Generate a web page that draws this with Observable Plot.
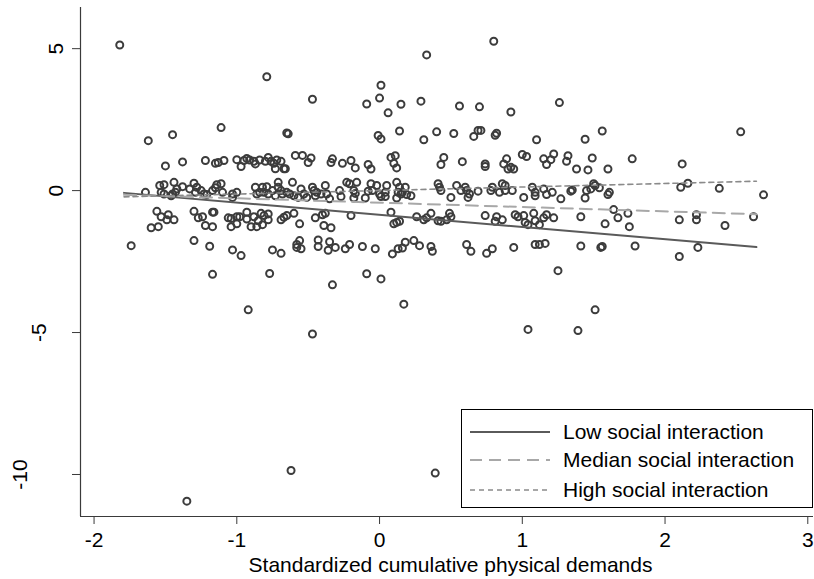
<!DOCTYPE html>
<html>
<head>
<meta charset="utf-8">
<script src="https://cdn.jsdelivr.net/npm/d3@7"></script>
<script src="https://cdn.jsdelivr.net/npm/@observablehq/plot@0.6"></script>
<style>
  html, body { margin: 0; padding: 0; background: #fff; }
  #wrap { position: relative; width: 814px; height: 579px; font-family: "Liberation Sans", Arial, sans-serif; }
  #legend { position: absolute; left: 461px; top: 409px; width: 350px; height: 97px; border: 1px solid #000; background: #fff; }
  #legend .row { position: absolute; left: 0; height: 28px; display: flex; align-items: center; }
  #legend svg { margin-left: 8px; }
  #legend span { margin-left: 13px; font-size: 21px; color: #000; white-space: nowrap; }
</style>
</head>
<body>
<div id="wrap"></div>
<script>
// ---- data ----
const xTicks = [-2, -1, 0, 1, 2, 3];
const yTicks = [5, 0, -5, -10];
const xDomain = [-2.095, 3.04];
const yDomain = [-11.48, 6.45];
const xTitle = "Standardized cumulative physical demands";
const seriesNames = ["Low social interaction", "Median social interaction", "High social interaction"];

// fitted lines (endpoints)
const fitX = [-1.79, 2.64];
const lowY = [-0.08, -1.99];
const medY = [-0.15, -0.83];
const highY = [-0.22, 0.33];

// scatter points: physical demands (x) and outcome (y)
const demandX = [
-1.82,-0.79,-1.11,-1.45,-1.62,-0.47,0.01,0.00,-0.09,0.06,0.15,0.33,0.80,0.29,0.56,0.70,0.92,-0.65,-0.64,-0.01,0.01,0.14,0.31,0.40,0.52,0.66,0.69,0.71,0.81,0.82,1.10,1.26,1.56,1.44,2.53,
-1.50,-1.38,-1.22,-1.15,-1.13,-1.09,-1.00,-0.97,-0.95,-0.93,-0.91,-0.88,-0.87,-0.84,-0.80,-0.78,-0.76,-0.74,-0.73,-0.72,-0.69,-0.67,-0.66,-0.59,-0.54,-0.48,-0.50,
-0.33,-0.34,-0.26,-0.20,-0.17,-0.08,-0.06,0.08,0.11,0.10,0.12,0.45,0.43,0.58,0.74,0.74,0.89,0.87,0.90,0.92,0.94,1.00,1.03,1.15,1.17,1.22,1.32,1.31,1.20,1.49,1.38,1.46,1.60,1.77,2.12,
-1.64,-1.54,-1.51,-1.53,-1.51,-1.46,-1.45,-1.44,-1.42,-1.38,-1.43,-1.33,-1.30,-1.28,-1.25,-1.29,-1.23,-1.21,-1.17,-1.14,-1.11,-1.15,-1.10,-1.03,-1.03,-1.00,-0.87,-0.86,-0.82,-0.84,-0.79,-0.81,-0.78,-0.75,-0.73,-0.71,-0.71,-0.69,-0.68,-0.65,-0.61,-0.63,-0.60,-0.57,-0.55,-0.53,-0.51,-0.47,-0.46,-0.44,-0.45,-0.41,-0.37,-0.35,
-0.38,-0.28,-0.27,-0.23,-0.21,-0.16,-0.18,-0.17,-0.18,-0.10,-0.08,-0.06,-0.05,-0.02,0.00,0.01,0.05,0.04,0.04,0.12,0.14,0.13,0.15,0.12,0.16,0.18,0.19,0.22,0.41,0.42,0.43,0.50,0.54,0.57,0.60,0.61,0.63,0.62,0.69,0.78,0.79,0.84,0.86,0.88,0.88,0.93,1.01,1.07,1.09,1.09,1.15,1.17,1.21,
1.27,1.35,1.34,1.44,1.45,1.48,1.50,1.51,1.54,1.60,1.61,2.11,2.16,2.38,2.69,
-1.56,-1.53,-1.48,-1.49,-1.44,-1.60,-1.55,-1.30,-1.27,-1.24,-1.17,-1.16,-1.22,-1.17,-1.06,-1.04,-1.04,-1.00,-1.00,-0.98,-0.93,-0.93,-0.90,-0.88,-0.86,-0.85,-0.83,-0.82,-0.81,-0.78,-0.78,-0.69,-0.67,-0.65,-0.60,-0.56,-0.45,-0.40,-0.39,
-0.38,-0.34,-0.20,0.08,0.10,0.12,0.14,0.26,0.31,0.33,0.36,0.41,0.43,0.47,0.49,0.50,0.74,0.81,0.82,0.86,0.95,0.97,1.01,1.02,1.04,1.08,1.09,1.12,1.15,1.17,1.22,
1.41,1.58,1.64,1.67,1.74,1.75,2.10,2.22,2.22,2.42,2.62,
-1.74,-1.30,-1.19,-1.03,-0.97,-0.75,-0.69,-0.58,-0.56,-0.55,-0.58,-0.43,-0.43,-0.35,-0.36,-0.31,-0.24,-0.21,-0.12,-0.03,0.09,0.13,0.16,0.18,0.24,0.28,0.36,0.37,0.61,0.64,0.75,0.79,0.94,1.09,1.12,1.16,1.41,1.55,1.56,1.79,2.10,2.23,
-1.17,-0.77,-0.92,-0.33,-0.09,0.01,0.17,-0.47,1.04,1.25,1.51,1.39,-0.62,-1.35,0.39
];
const outcomeY = [
5.13,4.01,2.22,1.97,1.76,3.22,3.71,3.26,3.05,2.74,3.04,4.78,5.26,3.15,2.98,2.95,2.77,2.03,2.00,1.94,1.82,2.10,1.79,2.07,2.01,1.91,2.12,2.12,1.95,2.02,1.79,3.10,2.10,1.81,2.07,
0.87,1.01,1.06,0.96,0.99,1.06,1.09,0.85,1.06,1.13,1.08,1.03,0.94,1.08,1.03,1.17,1.03,0.96,0.77,1.08,1.03,0.77,0.77,1.24,1.24,1.15,0.99,
1.12,0.99,0.96,1.06,0.80,0.92,0.76,1.17,1.23,0.96,0.80,1.17,0.92,1.02,0.94,0.85,1.12,0.94,0.76,0.82,0.76,1.27,1.20,1.12,0.92,1.29,1.23,1.03,1.09,1.15,0.76,0.73,0.76,1.12,0.94,
-0.06,0.18,0.21,-0.06,-0.12,-0.18,-0.12,0.29,0.06,0.14,-0.06,0.06,0.26,0.12,0.00,-0.06,-0.12,-0.14,0.00,0.21,0.24,0.10,-0.06,-0.24,-0.12,-0.06,0.12,-0.12,0.12,-0.06,0.14,-0.06,-0.12,0.00,-0.18,0.29,0.12,0.00,-0.12,-0.06,0.29,-0.12,-0.18,-0.24,0.06,-0.12,-0.24,0.12,0.00,-0.06,-0.18,-0.12,-0.12,-0.29,
0.18,0.00,-0.21,0.29,0.24,0.29,0.00,-0.10,-0.26,-0.26,-0.02,0.24,0.00,0.18,-0.12,-0.21,0.18,-0.06,-0.21,0.29,0.12,-0.06,-0.12,-0.26,-0.06,0.12,-0.14,-0.18,0.24,0.12,0.00,-0.24,0.18,0.00,0.12,0.00,-0.12,-0.24,-0.02,0.00,0.12,-0.06,0.24,0.18,0.00,0.00,-0.24,0.12,-0.06,-0.18,0.06,-0.14,-0.06,
-0.29,0.02,-0.02,-0.26,0.00,0.06,0.24,0.18,0.10,-0.14,-0.06,0.12,0.26,0.08,-0.15,
-0.73,-0.92,-0.85,-1.03,-1.03,-1.31,-1.27,-0.73,-0.96,-0.92,-0.76,-0.76,-1.23,-1.27,-0.96,-0.98,-1.27,-0.92,-1.17,-0.92,-0.76,-1.00,-1.27,-0.92,-1.27,-1.06,-0.80,-1.20,-0.88,-0.82,-1.03,-1.03,-0.94,-0.88,-0.80,-1.17,-0.96,-0.85,-1.23,
-0.80,-1.31,-0.88,-0.76,-1.17,-1.12,-1.08,-0.92,-1.03,-0.96,-0.80,-1.06,-1.08,-1.03,-0.80,-0.92,-0.88,-1.08,-0.92,-1.03,-0.85,-0.92,-0.88,-1.12,-1.20,-0.80,-1.06,-1.20,-0.96,-0.85,-0.96,
-0.92,-1.17,-0.67,-0.96,-0.80,-1.27,-1.03,-0.85,-1.03,-1.23,-0.92,
-1.94,-1.76,-1.96,-2.09,-2.29,-2.09,-2.21,-1.90,-1.76,-2.05,-2.00,-1.74,-1.97,-1.80,-2.10,-2.00,-2.05,-1.90,-1.97,-2.05,-2.23,-2.05,-2.02,-1.82,-1.76,-1.94,-1.97,-2.14,-1.90,-2.14,-2.21,-2.05,-2.00,-1.90,-1.90,-1.86,-1.95,-2.00,-1.97,-1.95,-2.32,-2.00,
-2.95,-2.92,-4.20,-3.32,-2.93,-3.11,-4.00,-5.05,-4.89,-2.82,-4.20,-4.93,-9.86,-10.94,-9.95
];

const points = demandX.map((x, i) => ({x, y: outcomeY[i]}));
const fits = [
  ...fitX.map((x, i) => ({x, y: lowY[i], s: seriesNames[0]})),
  ...fitX.map((x, i) => ({x, y: medY[i], s: seriesNames[1]})),
  ...fitX.map((x, i) => ({x, y: highY[i], s: seriesNames[2]}))
];

const axisColor = "#3a3a3a";
const lineStyles = {
  [seriesNames[0]]: {stroke: "#5a5a5a", strokeWidth: 2, dash: null},
  [seriesNames[1]]: {stroke: "#a8a8a8", strokeWidth: 2, dash: "12,7"},
  [seriesNames[2]]: {stroke: "#8a8a8a", strokeWidth: 1.6, dash: "5,4"}
};

const chart = Plot.plot({
  width: 814,
  height: 579,
  marginLeft: 80,
  marginRight: 1,
  marginTop: 7,
  marginBottom: 63,
  style: {fontFamily: "'Liberation Sans', Arial, sans-serif", fontSize: "21px", color: "#000", background: "#fff"},
  x: {domain: xDomain},
  y: {domain: yDomain},
  marks: [
    Plot.dot(points, {x: "x", y: "y", r: 3.5, fill: "none", stroke: "#3c3c3c", strokeWidth: 2}),
    ...seriesNames.map(s => Plot.line(fits.filter(d => d.s === s), {
      x: "x", y: "y",
      stroke: lineStyles[s].stroke,
      strokeWidth: lineStyles[s].strokeWidth,
      strokeDasharray: lineStyles[s].dash
    })),
    Plot.ruleX([xDomain[0]], {stroke: axisColor, strokeWidth: 1.2}),
    Plot.ruleY([yDomain[0]], {stroke: axisColor, strokeWidth: 1.2}),
    Plot.axisX({ticks: xTicks, tickSize: 8, tickPadding: 8, tickFormat: d => String(d), stroke: axisColor, fill: "#000", label: null}),
    Plot.axisY({ticks: yTicks, tickSize: 8, tickFormat: () => "", stroke: axisColor, label: null}),
    Plot.text(yTicks.filter(d => String(d).length === 1), {y: d => d, text: d => String(d), frameAnchor: "left", dx: -24.7, rotate: -90, textAnchor: "middle", lineAnchor: "middle", fill: "#000"}),
    Plot.text(yTicks.filter(d => String(d).length === 2), {y: d => d, text: d => String(d), frameAnchor: "left", dx: -41.7, rotate: -90, textAnchor: "middle", lineAnchor: "middle", fill: "#000"}),
    Plot.text(yTicks.filter(d => String(d).length === 3), {y: d => d, text: d => String(d), frameAnchor: "left", dx: -60.5, rotate: -90, textAnchor: "middle", lineAnchor: "middle", fill: "#000"}),
    Plot.text([xTitle], {text: d => d, frameAnchor: "bottom", dx: 3.5, dy: 55, lineAnchor: "bottom", fill: "#000"})
  ]
});

const wrap = document.getElementById("wrap");
wrap.appendChild(chart);

// legend inside the plot area
const legend = document.createElement("div");
legend.id = "legend";
const rowTops = [8, 36, 66];
seriesNames.forEach((s, i) => {
  const st = lineStyles[s];
  const row = document.createElement("div");
  row.className = "row";
  row.style.top = rowTops[i] + "px";
  row.innerHTML = `<svg width="80" height="10"><line x1="0" y1="5" x2="80" y2="5" stroke="${st.stroke}" stroke-width="${st.strokeWidth}" ${st.dash ? `stroke-dasharray="${st.dash}"` : ""}/></svg><span>${s}</span>`;
  legend.appendChild(row);
});
wrap.appendChild(legend);
</script>
</body>
</html>
